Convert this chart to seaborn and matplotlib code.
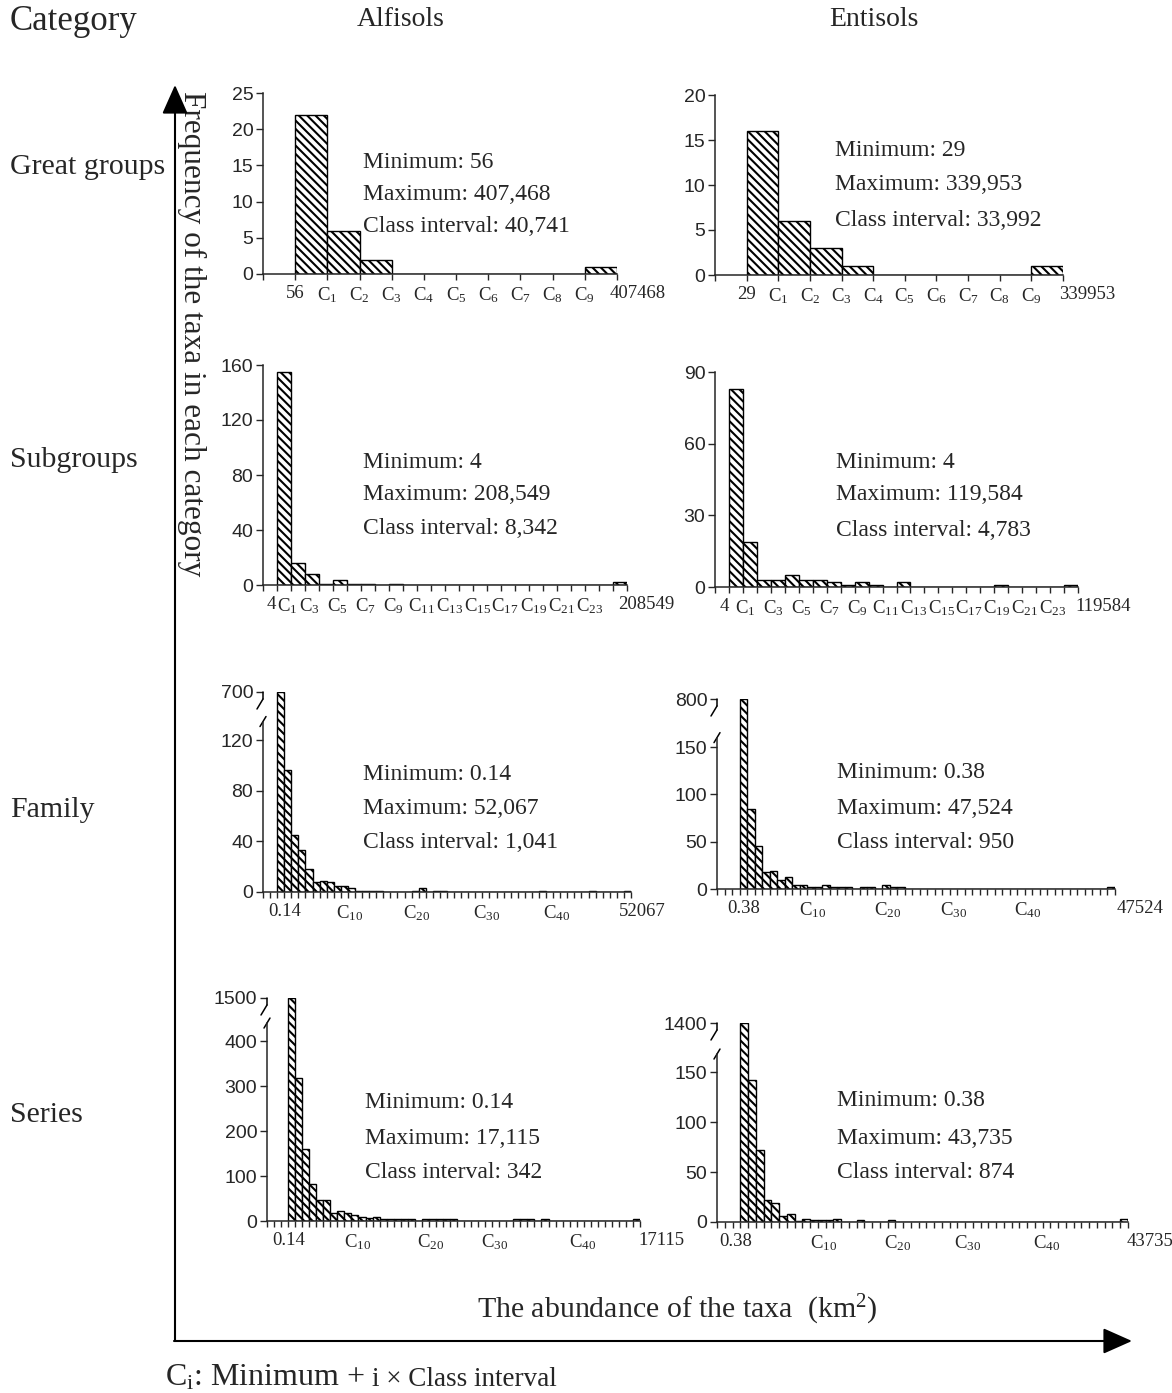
import numpy as np
import pandas as pd
import matplotlib
matplotlib.use("Agg")
import matplotlib.pyplot as plt
import seaborn as sns

# number of taxa in each class (first class starts at the minimum)
gg_alf = [22, 6, 2, 0, 0, 0, 0, 0, 0, 1]
gg_ent = [16, 6, 3, 1, 0, 0, 0, 0, 0, 1]
sg_alf = [155, 16, 8, 1, 4, 1, 1, 0, 1, 0, 0, 0, 0, 0, 0, 0, 0, 0, 0, 0, 0, 0, 0, 0, 2]
sg_ent = [83, 19, 3, 3, 5, 3, 3, 2, 1, 2, 1, 0, 2, 0, 0, 0, 0, 0, 0, 1, 0, 0, 0, 0, 1]
fam_alf = [700, 97, 45, 33, 18, 8, 9, 8, 5, 5,
           3, 1, 1, 1, 1, 0, 0, 0, 0, 1,
           3, 0, 1, 1, 0, 0, 0, 0, 0, 0,
           0, 0, 0, 0, 0, 0, 0, 1, 0, 0,
           0, 0, 0, 0, 1, 0, 0, 0, 0, 1]
fam_ent = [800, 85, 45, 18, 19, 9, 13, 4, 4, 2,
           2, 4, 2, 2, 2, 0, 2, 2, 0, 4,
           2, 2, 0, 0, 0, 0, 0, 0, 0, 0,
           0, 0, 0, 0, 0, 0, 0, 0, 0, 0,
           0, 0, 0, 0, 0, 0, 0, 0, 0, 2]
ser_alf = [1500, 318, 160, 82, 47, 47, 18, 22, 17, 13,
           10, 6, 8, 4, 4, 4, 4, 4, 0, 4,
           4, 4, 4, 4, 0, 0, 0, 0, 0, 0,
           0, 0, 4, 4, 4, 0, 4, 0, 0, 0,
           0, 0, 0, 0, 0, 0, 0, 0, 0, 5]
ser_ent = [1400, 142, 72, 22, 19, 6, 8, 1, 3, 2,
           2, 2, 3, 0, 0, 2, 0, 0, 0, 2,
           0, 0, 0, 0, 0, 0, 0, 0, 0, 0,
           0, 0, 0, 0, 0, 0, 0, 0, 0, 0,
           0, 0, 0, 0, 0, 0, 0, 0, 0, 3]

# y tick values
gg_alf_yt = [0, 5, 10, 15, 20, 25]
gg_ent_yt = [0, 5, 10, 15, 20]
sg_alf_yt = [0, 40, 80, 120, 160]
sg_ent_yt = [0, 30, 60, 90]
fam_alf_yt = [0, 40, 80, 120, 700]
fam_ent_yt = [0, 50, 100, 150, 800]
ser_alf_yt = [0, 100, 200, 300, 400, 1500]
ser_ent_yt = [0, 50, 100, 150, 1400]

# x tick labels
gg_c = ["C1", "C2", "C3", "C4", "C5", "C6", "C7", "C8", "C9"]
sg_c = ["C1", "C3", "C5", "C7", "C9", "C11", "C13", "C15", "C17", "C19", "C21", "C23"]
fam_c = ["C10", "C20", "C30", "C40"]
gg_alf_xl = ["56"] + gg_c + ["407468"]
gg_ent_xl = ["29"] + gg_c + ["339953"]
sg_alf_xl = ["4"] + sg_c + ["208549"]
sg_ent_xl = ["4"] + sg_c + ["119584"]
fam_alf_xl = ["0.14"] + fam_c + ["52067"]
fam_ent_xl = ["0.38"] + fam_c + ["47524"]
ser_alf_xl = ["0.14"] + fam_c + ["17115"]
ser_ent_xl = ["0.38"] + fam_c + ["43735"]

# minimum, maximum, class interval
gg_alf_st = ["56", "407,468", "40,741"]
gg_ent_st = ["29", "339,953", "33,992"]
sg_alf_st = ["4", "208,549", "8,342"]
sg_ent_st = ["4", "119,584", "4,783"]
fam_alf_st = ["0.14", "52,067", "1,041"]
fam_ent_st = ["0.38", "47,524", "950"]
ser_alf_st = ["0.14", "17,115", "342"]
ser_ent_st = ["0.38", "43,735", "874"]

rows = ["Great groups", "Subgroups", "Family", "Series"]

W, H = 1172, 1393

sns.set_style("ticks")
plt.rcParams["font.family"] = ["Liberation Serif", "DejaVu Serif"]
plt.rcParams["mathtext.fontset"] = "custom"
plt.rcParams["mathtext.rm"] = "Liberation Serif"
plt.rcParams["hatch.linewidth"] = 1.5
plt.rcParams["hatch.color"] = "black"

fig = plt.figure(figsize=(W / 100, H / 100), dpi=100)

# background axes in pixel coordinates for arrows and labels
bg = fig.add_axes([0, 0, 1, 1])
bg.set_xlim(0, W)
bg.set_ylim(H, 0)
bg.axis("off")


def lab(s):
    if s.startswith("C"):
        return r"$\mathregular{C_{%s}}$" % s[1:]
    return s


# pixel layout of each panel: box = (left, right, top, bottom)
sg_alf_pos = [-0.4, 0.75] + [k - 0.7 for k in range(3, 24, 2)] + [26.4]
sg_ent_pos = [-0.35, 1.15] + [k + 0.2 for k in range(3, 24, 2)] + [26.8]
panels = [
    (gg_alf, gg_alf_yt, gg_alf_xl, gg_alf_st,
     dict(box=(263, 617, 93, 274), lead=1, pos=list(range(10)) + [10.65], tx=363, ty=[162, 195, 227])),
    (gg_ent, gg_ent_yt, gg_ent_xl, gg_ent_st,
     dict(box=(715, 1063, 95, 275), lead=1, pos=list(range(10)) + [10.75], tx=835, ty=[150, 185, 220])),
    (sg_alf, sg_alf_yt, sg_alf_xl, sg_alf_st,
     dict(box=(263, 627, 365, 585), lead=1, pos=sg_alf_pos, tx=363, ty=[462, 495, 529])),
    (sg_ent, sg_ent_yt, sg_ent_xl, sg_ent_st,
     dict(box=(715, 1078, 372, 587), lead=1, pos=sg_ent_pos, tx=836, ty=[462, 495, 530])),
    (fam_alf, fam_alf_yt, fam_alf_xl, fam_alf_st,
     dict(box=(263, 631, 692, 892), lead=2, pos=[1.1, 10.3, 19.7, 29.6, 39.5, 51.6],
          brk=(135, 0.0414), tx=363, ty=[775, 808, 843])),
    (fam_ent, fam_ent_yt, fam_ent_xl, fam_ent_st,
     dict(box=(717, 1115, 699, 889), lead=3, pos=[0.5, 9.7, 19.7, 28.5, 38.3, 53.3],
          brk=(160, 0.0638), tx=837, ty=[772, 808, 843])),
    (ser_alf, ser_alf_yt, ser_alf_xl, ser_alf_st,
     dict(box=(267, 640, 998, 1221), lead=3, pos=[0.1, 9.9, 20.2, 29.4, 41.9, 53.0],
          brk=(440, 0.0525), tx=365, ty=[1103, 1138, 1173])),
    (ser_ent, ser_ent_yt, ser_ent_xl, ser_ent_st,
     dict(box=(717, 1128, 1023, 1222), lead=3, pos=[-0.6, 10.7, 20.3, 29.3, 39.5, 52.8],
          brk=(168, 0.0252), tx=837, ty=[1100, 1138, 1173])),
]

for counts, yt, xl, st, p in panels:
    l, r, t, b = p["box"]
    ax = fig.add_axes([l / W, 1 - b / H, (r - l) / W, (b - t) / H])
    ax.set_facecolor("none")
    n = len(counts)
    df = pd.DataFrame({"cls": np.arange(n) + 0.5, "count": counts})
    sns.histplot(data=df, x="cls", weights="count", bins=n, binrange=(0, n), ax=ax,
                 color="white", edgecolor="black", linewidth=1.0,
                 hatch="\\\\\\\\", alpha=1.0)
    if "brk" in p:
        bk, s = p["brk"]

        def fwd(y, bk=bk, s=s):
            y = np.asarray(y, dtype=float)
            return np.where(y <= bk, y, bk + (y - bk) * s)

        def inv(v, bk=bk, s=s):
            v = np.asarray(v, dtype=float)
            return np.where(v <= bk, v, bk + (v - bk) / s)

        ax.set_yscale("function", functions=(fwd, inv))
    ax.set_ylim(0, yt[-1])
    ax.set_xlim(-p["lead"], n)
    ax.set_xlabel("")
    ax.set_ylabel("")
    sns.despine(ax=ax)
    ax.spines["left"].set_linewidth(1.1)
    ax.spines["bottom"].set_linewidth(1.1)

    ax.set_yticks(yt)
    ax.set_yticklabels([str(v) for v in yt], fontfamily="Liberation Sans", fontsize=14)
    ax.tick_params(axis="y", length=5, width=1, pad=2)
    ax.set_xticks(np.arange(-p["lead"], n + 1))
    ax.set_xticklabels([])
    ax.tick_params(axis="x", which="major", length=4, width=1)
    ax.minorticks_off()

    # class labels under the axis
    for s_, x_ in zip(xl, p["pos"]):
        ax.annotate(lab(s_), xy=(x_, 0), xycoords=ax.get_xaxis_transform(),
                    xytext=(0, -8), textcoords="offset points", ha="center", va="top",
                    fontsize=13.5, annotation_clip=False)

    if "brk" in p:
        bk, s = p["brk"]
        hpx, wpx = b - t, r - l
        yl = float(fwd(bk)) / float(fwd(yt[-1]))
        ax.spines["left"].set_bounds(0, bk)
        kw = dict(transform=ax.transAxes, color="black", lw=1.1, clip_on=False)
        ax.plot([-3 / wpx, 3 / wpx], [yl - 5 / hpx, yl + 5 / hpx], **kw)
        ax.plot([0, 0], [1, 1 - 7 / hpx], **kw)
        ax.plot([0, -6 / wpx], [1 - 7 / hpx, 1 - 17 / hpx], **kw)

    names = ["Minimum: ", "Maximum: ", "Class interval: "]
    for nm, v, yy in zip(names, st, p["ty"]):
        bg.text(p["tx"], yy, nm + v, ha="left", va="center", fontsize=17)

# headers and row labels
bg.text(10, 22, "Category", ha="left", va="center", fontsize=25)
bg.text(401, 20, "Alfisols", ha="center", va="center", fontsize=20)
bg.text(874, 20, "Entisols", ha="center", va="center", fontsize=20)
for name, yy in zip(rows, [167, 460, 810, 1115]):
    bg.text(10, yy, name, ha="left", va="center", fontsize=21.5)

bg.text(192, 334, "Frequency of the taxa in each category", rotation=270,
        ha="center", va="center", fontsize=22.5)
bg.text(677, 1310, r"The abundance of the taxa  (km$\mathregular{^{2}}$)",
        ha="center", va="center", fontsize=21.5)

# axes arrows
bg.annotate("", xy=(175, 85), xytext=(175, 1341),
            arrowprops=dict(arrowstyle="-|>,head_length=0.9,head_width=0.4",
                            color="black", lw=1.5, mutation_scale=20,
                            shrinkA=0, shrinkB=0))
bg.annotate("", xy=(1132, 1341), xytext=(174, 1341),
            arrowprops=dict(arrowstyle="-|>,head_length=0.9,head_width=0.4",
                            color="black", lw=1.5, mutation_scale=20,
                            shrinkA=0, shrinkB=0))

# footnote
rend = fig.canvas.get_renderer()
t1 = bg.text(165, 1378, r"C$\mathregular{_{i}}$: Minimum +", ha="left", va="center", fontsize=23)
x1 = t1.get_window_extent(renderer=rend).x1
bg.text(x1 + 7, 1379, "i \u00d7 Class interval", ha="left", va="center", fontsize=19.5)

fig.savefig("out.png", dpi=100)
